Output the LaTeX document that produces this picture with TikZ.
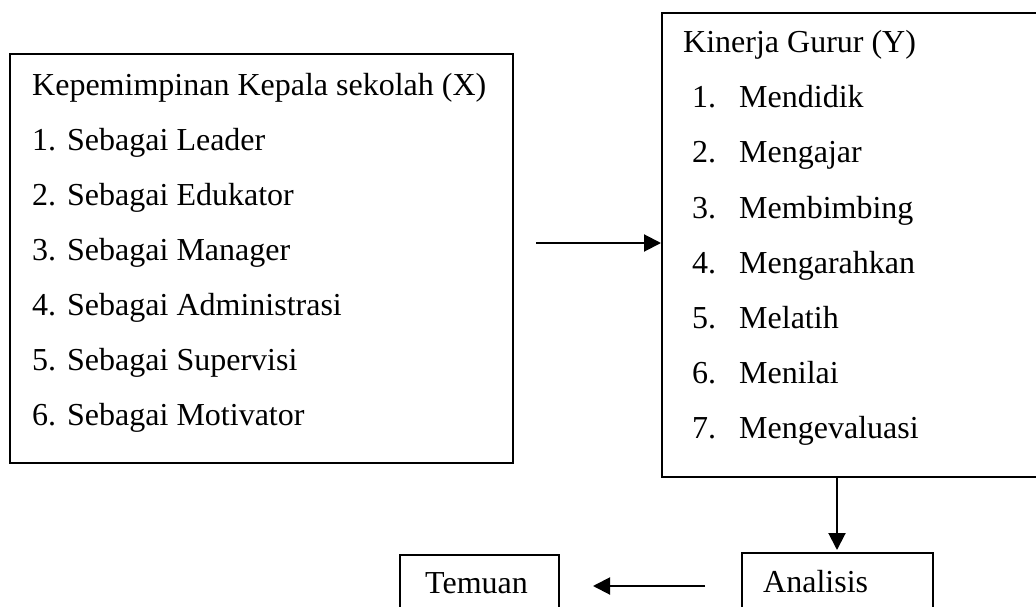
\documentclass[tikz,border=0pt]{standalone}
\usepackage{fontspec}
\setmainfont{Liberation Serif}
\usetikzlibrary{arrows.meta}
\begin{document}
\begin{tikzpicture}[x=1pt,y=-1pt,
  box/.style={draw=black,line width=1.6pt},
  txt/.style={anchor=base west,inner sep=0pt,font=\fontsize{32}{36}\selectfont},
  conn/.style={line width=2pt,-{Triangle[length=17pt,width=17pt]}}]
\useasboundingbox (0,0) rectangle (1036,607);
\clip (0,0) rectangle (1036,607);
% boxes
\draw[box] (10,54) rectangle (513,463);
\draw[box] (662,13) rectangle (1045,477);
\draw[box] (400,555) rectangle (559,620);
\draw[box] (742,553) rectangle (933,620);
\coordinate (xr) at (536,243);
\coordinate (yl) at (661,243);
\coordinate (yb) at (837,477);
\coordinate (at) at (837,550);
\coordinate (af) at (705,586);
\coordinate (tt) at (593,586);
% left box text
\node[txt] (xt) at (32,96) {Kepemimpinan Kepala sekolah (X)};
\foreach \i/\t in {1/Leader,2/Edukator,3/Manager,4/Administrasi,5/Supervisi,6/Motivator}{
  \node[txt] (xn\i) at (32,{150+55*(\i-1)}) {\i.};
  \node[txt] (xi\i) at (67,{150+55*(\i-1)}) {Sebagai \t};
}
% right box text
\node[txt] (yt) at (683,53) {Kinerja Gurur (Y)};
\foreach \i/\t in {1/Mendidik,2/Mengajar,3/Membimbing,4/Mengarahkan,5/Melatih,6/Menilai,7/Mengevaluasi}{
  \node[txt] (yn\i) at (692,{108+55*(\i-1)}) {\i.};
  \node[txt] (yi\i) at (739,{108+55*(\i-1)}) {\t};
}
\node[txt] (tem) at (425,593) {Temuan};
\node[txt] (ana) at (763,592) {Analisis};
% connectors
\draw[conn] (xr) -- (yl);
\draw[conn] (yb) -- (at);
\draw[conn] (af) -- (tt);
\end{tikzpicture}
\end{document}
